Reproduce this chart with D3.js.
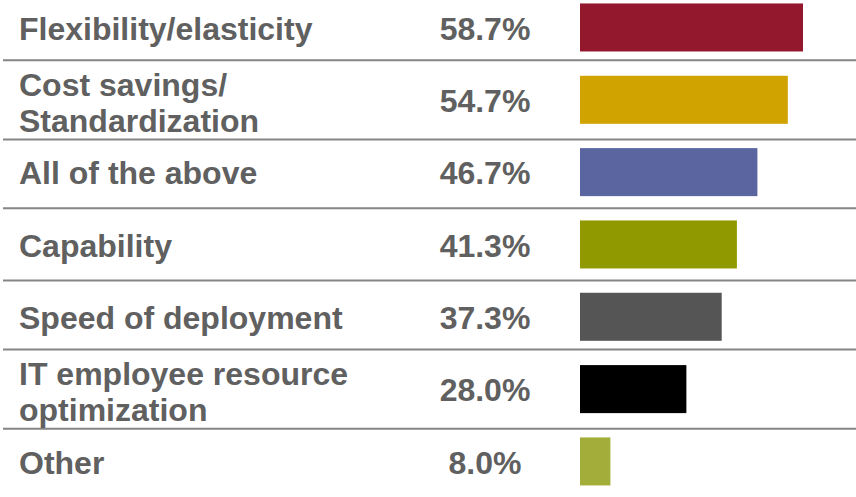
<!DOCTYPE html>
<html>
<head>
<meta charset="utf-8">
<script src="https://cdn.jsdelivr.net/npm/d3@7"></script>
<style>
  html, body { margin: 0; padding: 0; background: #ffffff; }
  svg { display: block; }
  text { font-family: "Liberation Sans", Arial, sans-serif; font-weight: bold; fill: #606060; }
</style>
</head>
<body>
<svg id="chart" width="856" height="497"></svg>
<script>
// Reasons for adopting cloud services (share of respondents)
const categories = [
  ["Flexibility/elasticity"],
  ["Cost savings/", "Standardization"],
  ["All of the above"],
  ["Capability"],
  ["Speed of deployment"],
  ["IT employee resource", "optimization"],
  ["Other"]
];
const values = [58.7, 54.7, 46.7, 41.3, 37.3, 28.0, 8.0];
const valueLabels = ["58.7%", "54.7%", "46.7%", "41.3%", "37.3%", "28.0%", "8.0%"];
const colors = ["#93172D", "#D1A300", "#5B66A1", "#919900", "#555555", "#000000", "#A3AD3A"];

const width = 856, height = 497;
const svg = d3.select("#chart");

const keys = categories.map((c, i) => i);

const y = d3.scaleBand()
  .domain(keys)
  .range([-8.7, 497.6])
  .paddingInner(0.336)
  .paddingOuter(0.168);

const x = d3.scaleLinear()
  .domain([0, d3.max(values)])
  .range([580, 803]);

const center = i => y(i) + y.bandwidth() / 2;

// Row separators: halfway between rows, pushed outward around two-line rows
const seps = d3.range(1, keys.length).map(i => {
  let pos = (center(i - 1) + center(i)) / 2;
  if (categories[i].length > 1) pos -= 3.5;
  if (categories[i - 1].length > 1) pos += 3.5;
  return pos;
});

svg.append("g")
  .selectAll("line")
  .data(seps)
  .join("line")
  .attr("x1", 3)
  .attr("x2", width)
  .attr("y1", d => d)
  .attr("y2", d => d)
  .attr("stroke", "#858585")
  .attr("stroke-width", 2);

// Bars
svg.append("g")
  .selectAll("rect")
  .data(values)
  .join("rect")
  .attr("x", x(0))
  .attr("y", (d, i) => y(i))
  .attr("width", d => x(d) - x(0))
  .attr("height", y.bandwidth())
  .attr("fill", (d, i) => colors[i]);

// Category labels
const fontSize = 32;
const lineGap = 36;
const labels = svg.append("g")
  .selectAll("text")
  .data(categories)
  .join("text")
  .attr("x", 19)
  .attr("font-size", fontSize);

labels.each(function(lines, i) {
  const t = d3.select(this);
  const c = center(i) + (lines.length > 1 ? 2 : 0);
  lines.forEach((ln, j) => {
    t.append("tspan")
      .attr("x", 19)
      .attr("y", c + (j - (lines.length - 1) / 2) * lineGap)
      .attr("dy", "0.38em")
      .text(ln);
  });
});

// Value labels
svg.append("g")
  .selectAll("text")
  .data(valueLabels)
  .join("text")
  .attr("x", 485)
  .attr("y", (d, i) => center(i))
  .attr("dy", "0.38em")
  .attr("text-anchor", "middle")
  .attr("font-size", fontSize)
  .text(d => d);
</script>
</body>
</html>
